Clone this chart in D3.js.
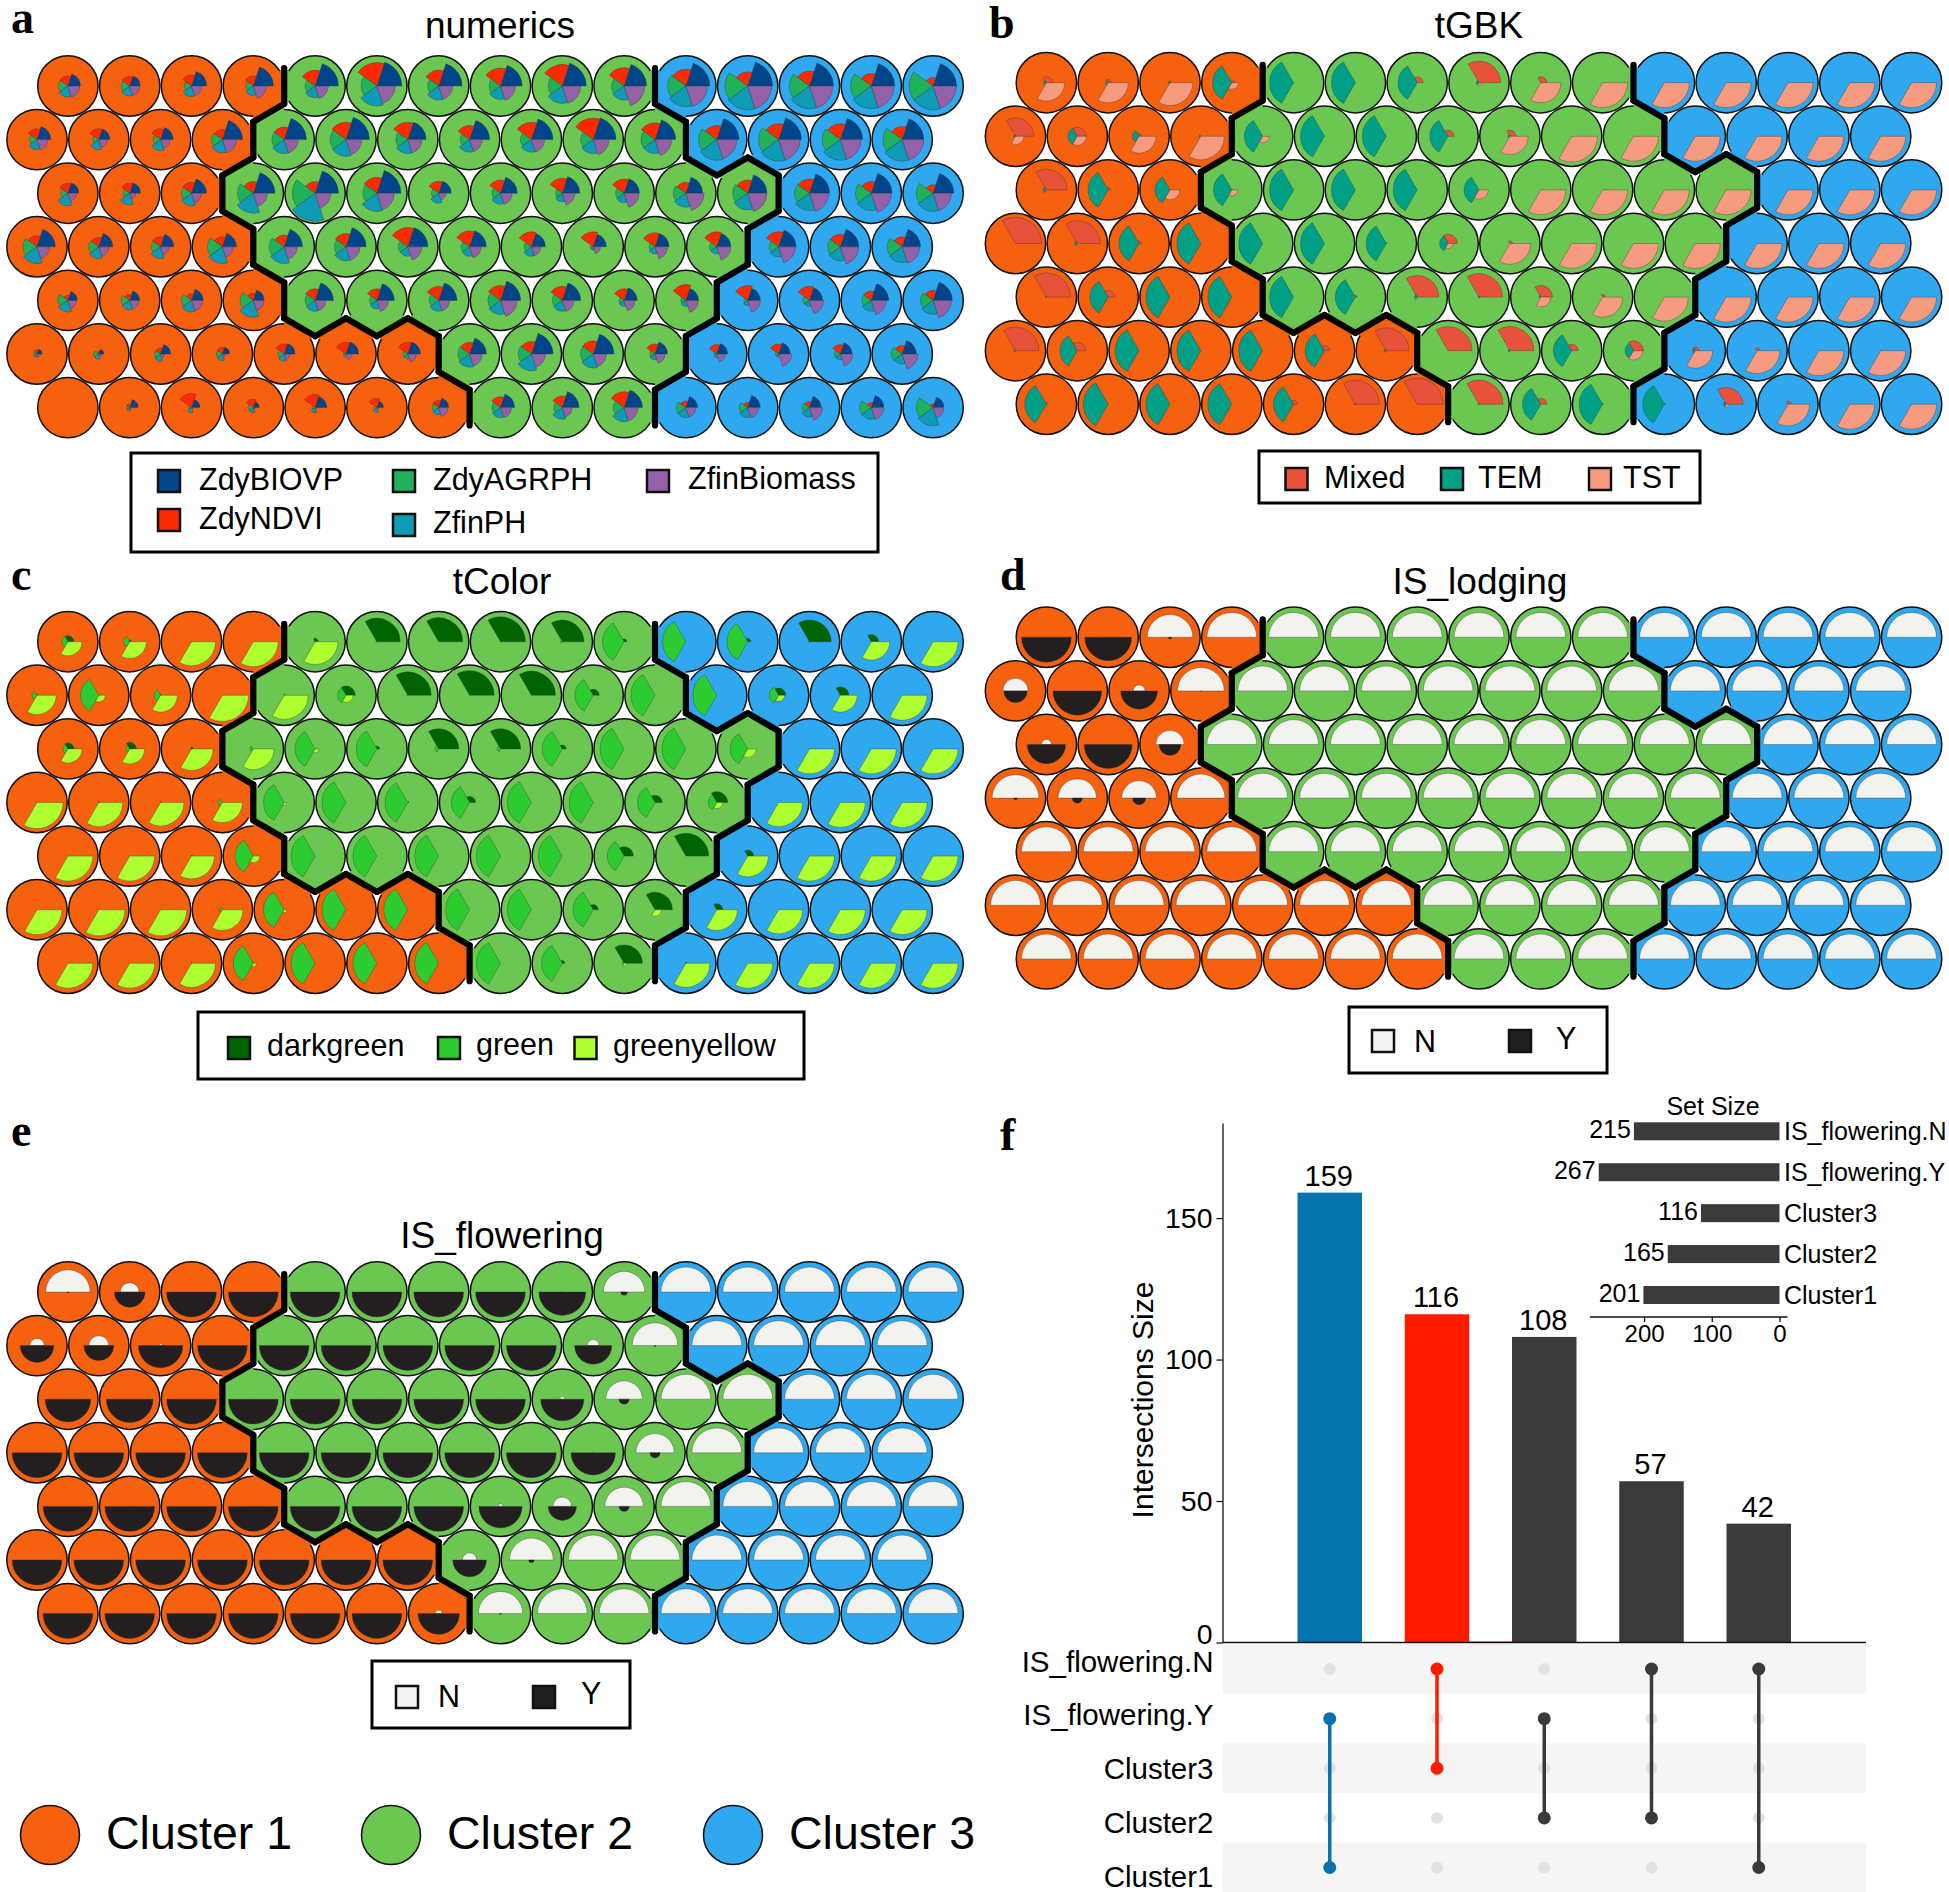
<!DOCTYPE html>
<html>
<head>
<meta charset="utf-8">
<script src="https://cdn.jsdelivr.net/npm/d3@7"></script>
<style>
  html, body { margin: 0; padding: 0; background: #fff; }
  text { font-family: "Liberation Sans", Arial, sans-serif; fill: #000; }
</style>
</head>
<body>
<svg id="chart" width="1949" height="1892"></svg>
<script>
// SOM grid: 7 rows of 15 cells, number of cluster 1 cells and first cluster 3 cell per row
const cluster1Count = [4, 4, 3, 4, 4, 7, 7];
const cluster3Start = [10, 11, 12, 12, 11, 11, 10];
const clusterColors = ["#f6610f", "#6cc752", "#2fa8ef"];
const clusterNames = ["Cluster 1", "Cluster 2", "Cluster 3"];

// panel a, codes per cell, read row by row
const zdyBIOVP = [
  42,35,51,67,78,83,78,72,80,75,80,83,80,78,78,
  46,37,42,67,74,78,61,67,72,76,69,74,76,74,72,
  36,36,50,72,78,80,42,56,58,51,56,64,67,69,69,
  61,47,44,47,61,67,67,56,47,44,47,47,58,61,61,
  31,33,39,36,61,58,61,67,61,44,42,42,44,58,64,
  17,17,33,24,36,42,42,56,72,69,42,36,39,39,47,
  0,28,28,20,39,22,33,47,56,61,39,42,39,42,36];
const zdyNDVI = [
  33,31,36,33,53,78,53,60,72,61,56,47,50,42,28,
  36,36,36,33,42,58,58,47,58,72,56,47,53,53,44,
  33,33,36,39,39,53,40,44,50,47,36,44,47,39,28,
  36,31,33,33,39,44,64,53,50,50,47,50,50,42,33,
  17,20,22,24,39,39,47,50,47,39,53,50,47,31,33,
  13,9,20,22,33,39,39,39,42,44,33,31,33,31,28,
  0,13,47,28,44,31,24,36,39,53,22,17,20,17,13];
const zdyAGRPH = [
  31,28,24,24,33,53,37,38,47,42,61,76,67,69,80,
  24,20,24,36,41,53,40,31,36,42,47,61,67,61,64,
  24,22,33,53,76,47,24,28,22,28,42,50,50,53,56,
  47,33,31,50,50,39,31,28,24,9,20,24,31,42,50,
  33,28,33,44,33,24,31,42,33,17,17,13,22,31,42,
  11,17,20,20,20,9,16,39,44,42,17,9,11,20,36,
  0,11,9,17,9,9,22,28,28,36,31,28,24,39,56];
const zfinPH = [
  37,33,35,31,39,67,47,45,58,47,69,80,76,76,80,
  33,33,37,44,47,56,47,42,42,47,47,69,72,69,72,
  42,39,42,67,94,61,33,36,28,31,47,56,58,58,61,
  56,39,39,56,56,47,31,31,31,11,24,24,33,47,53,
  39,31,39,56,36,28,36,47,36,20,20,17,20,36,47,
  11,17,24,22,24,11,16,44,56,47,20,13,11,20,33,
  0,11,17,17,17,16,24,33,39,47,33,33,31,39,61];
const zfinBiomass = [
  39,33,34,44,44,61,47,50,61,69,72,80,78,76,78,
  36,28,31,47,47,53,47,42,44,53,56,67,72,69,72,
  28,20,33,47,53,58,24,39,42,50,61,64,64,67,61,
  42,33,28,36,44,47,47,39,31,24,42,47,56,61,58,
  28,31,36,36,36,39,36,56,39,36,42,42,47,50,61,
  11,9,13,11,20,20,28,42,47,44,33,28,44,42,53,
  0,6,6,6,6,6,31,36,33,47,33,36,44,42,36];

// panel b
const mixed = [
  20,11,6,9,0,0,20,72,20,0,0,0,0,0,0,
  61,30,9,0,0,0,0,20,20,0,0,0,0,0,0,
  69,9,0,0,0,0,0,0,0,0,0,0,0,0,0,
  87,76,9,0,0,0,3,31,9,0,0,0,0,0,0,
  80,22,0,0,0,6,72,78,39,9,0,0,0,0,0,
  78,28,0,0,0,17,76,80,80,22,33,13,9,0,0,
  6,0,0,0,13,80,87,80,20,3,3,56,11,0,0];
const tem = [
  9,9,6,64,80,80,64,9,0,0,0,0,0,0,0,
  6,31,22,6,61,80,80,61,6,0,0,0,0,0,0,
  11,67,50,61,80,80,80,50,0,0,0,0,0,0,0,
  0,9,67,80,80,80,67,28,0,0,0,0,0,0,0,
  3,61,80,80,80,67,9,3,6,0,0,0,0,0,0,
  6,58,80,80,80,64,7,0,6,61,28,9,0,0,0,
  72,83,80,80,67,3,0,3,61,78,72,9,0,0,0];
const tst = [
  61,67,76,22,0,0,0,9,67,83,83,83,83,83,83,
  28,30,56,78,22,0,0,0,61,86,83,83,83,83,83,
  0,3,33,20,0,0,0,31,83,83,83,83,83,83,83,
  0,0,0,0,0,0,0,17,69,83,83,83,83,83,83,
  0,0,0,0,0,0,0,3,33,67,80,83,83,83,83,
  0,0,0,0,0,0,0,0,0,0,31,58,76,83,83,
  0,0,0,0,0,0,0,0,0,0,0,9,72,83,83];

// panel c
const darkgreen = [
  20,6,0,0,11,78,80,83,72,9,0,11,72,24,0,
  3,0,3,0,3,31,78,82,80,20,0,0,24,28,0,
  20,22,6,0,0,9,67,67,13,0,0,0,0,0,0,
  0,3,3,0,0,0,3,20,0,0,24,36,0,0,0,
  0,0,3,0,0,0,0,0,0,31,76,20,0,0,0,
  0,0,0,0,0,0,0,0,0,17,58,20,0,0,0,
  0,0,3,0,0,0,0,0,9,61,3,0,0,0,0];
const green = [
  20,20,3,0,3,3,0,0,6,72,78,69,3,0,0,
  17,61,22,0,0,28,3,0,0,61,80,80,31,3,0,
  17,13,3,11,67,69,13,11,67,80,80,58,0,0,0,
  0,0,0,13,69,80,76,61,80,80,58,28,0,0,0,
  0,0,0,61,80,80,80,80,80,56,0,0,0,0,0,
  0,0,0,9,69,80,80,80,80,67,0,0,0,0,0,
  0,0,0,67,80,80,80,80,69,6,0,0,0,0,0];
const greenyellow = [
  47,56,80,83,76,0,0,0,0,0,0,0,0,61,83,
  64,22,56,87,80,24,0,0,0,0,0,0,20,56,83,
  47,50,72,69,13,0,0,0,0,0,0,28,83,83,83,
  87,80,78,67,9,0,0,0,0,0,0,20,80,83,83,
  83,83,76,22,0,0,0,0,0,0,6,69,83,83,83,
  83,87,87,69,9,0,0,0,0,0,22,69,80,83,83,
  83,83,80,11,0,0,0,0,0,9,80,83,83,83,83];

// panel d
const lodgingN = [
  0,3,76,83,83,83,83,83,83,83,83,83,83,83,83,
  42,0,20,78,83,83,83,83,83,83,83,83,83,83,83,
  17,2,47,83,83,83,83,83,83,83,83,83,83,83,83,
  78,64,58,80,83,83,83,83,83,83,83,83,83,83,83,
  83,83,83,83,83,83,83,83,83,83,83,83,83,83,83,
  83,83,83,83,83,83,83,83,83,83,83,83,83,83,83,
  83,83,83,83,83,83,83,83,83,83,83,83,83,83,83];
const lodgingY = [
  83,78,6,0,0,0,0,0,0,0,0,0,0,0,0,
  39,81,61,1,0,0,0,0,0,0,0,0,0,0,0,
  64,80,36,0,0,0,0,0,0,0,0,0,0,0,0,
  6,17,22,0,0,0,0,0,0,0,0,0,0,0,0,
  0,0,0,0,0,0,0,0,0,0,0,0,0,0,0,
  0,0,0,0,0,0,0,0,0,0,0,0,0,0,0,
  0,0,0,0,0,0,0,0,0,0,0,0,0,0,0];

// panel e
const floweringN = [
  74,31,0,0,0,0,0,0,3,69,83,83,83,83,83,
  24,33,6,0,0,0,0,0,0,20,76,83,83,83,83,
  3,2,0,0,0,0,0,0,9,61,83,83,83,83,83,
  0,0,0,0,0,0,0,0,0,3,64,83,83,83,83,
  0,0,0,0,0,0,0,9,31,64,83,83,83,83,83,
  0,0,0,0,0,0,0,24,73,83,83,83,83,83,83,
  0,0,0,0,0,0,11,74,83,83,83,83,83,83,83];
const floweringY = [
  3,51,83,83,83,83,83,83,78,11,0,0,0,0,0,
  56,50,74,83,83,83,83,83,83,62,3,0,0,0,0,
  76,78,83,83,83,83,83,83,72,17,0,0,0,0,0,
  83,83,83,83,83,83,83,83,83,74,17,0,0,0,0,
  83,83,83,83,83,83,83,72,47,17,0,0,0,0,0,
  83,83,83,83,83,83,83,56,9,0,0,0,0,0,0,
  83,83,83,83,83,83,69,3,0,0,0,0,0,0,0];

// panel f, upset plot
const interSizes = [159, 116, 108, 57, 42];
const interColors = ["#0773ae", "#ff1a00", "#3a3a3a", "#3a3a3a", "#3a3a3a"];
const interSets = [
  ["IS_flowering.Y", "Cluster1"],
  ["IS_flowering.N", "Cluster3"],
  ["IS_flowering.Y", "Cluster2"],
  ["IS_flowering.N", "Cluster2"],
  ["IS_flowering.N", "Cluster1"]];
const setNames = ["IS_flowering.N", "IS_flowering.Y", "Cluster3", "Cluster2", "Cluster1"];
const setSizes = [215, 267, 116, 165, 201];
const yTicks = [0, 50, 100, 150];
const setTicks = [0, 100, 200];

const svg = d3.select("#chart");

const panels = [
  { title: "numerics", titleX: 500, titleY: 38, x0: 37, y0: 86,
    series: [zdyBIOVP, zdyNDVI, zdyAGRPH, zfinPH, zfinBiomass],
    colors: ["#00458a", "#ff2a00", "#1fb25a", "#0e9bb5", "#9460a8"] },
  { title: "tGBK", titleX: 1479, titleY: 38, x0: 1015.5, y0: 82.7,
    series: [mixed, tem, tst],
    colors: ["#e9523a", "#00a087", "#f79b80"] },
  { title: "tColor", titleX: 502, titleY: 594, x0: 37, y0: 641.7,
    series: [darkgreen, green, greenyellow],
    colors: ["#006400", "#2ccb30", "#adff2f"] },
  { title: "IS_lodging", titleX: 1480, titleY: 594, x0: 1015.5, y0: 637.3,
    series: [lodgingN, lodgingY],
    colors: ["#f2f2ee", "#231f20"] },
  { title: "IS_flowering", titleX: 502, titleY: 1248, x0: 37, y0: 1292,
    series: [floweringN, floweringY],
    colors: ["#f2f2ee", "#231f20"] }
];

const stepX = 61.8, stepY = 53.6;
const hexW = stepX / 2, hexS = stepY * 2 / 3;
const hexPts = [[0, -hexS], [hexW, -hexS / 2], [hexW, hexS / 2], [0, hexS], [-hexW, hexS / 2], [-hexW, -hexS / 2]];
const rScale = d3.scaleLinear().domain([0, 100]).range([0, 30]);
const arc = d3.arc().innerRadius(0);

function clusterOf(row, col) {
  if (row < 0 || row > 6 || col < 0 || col > 14) return -1;
  if (col < cluster1Count[row]) return 0;
  return col < cluster3Start[row] ? 1 : 2;
}

// neighbours in hexPts edge order: NE, E, SE, SW, W, NW
function neighbours(row, col) {
  const s = row % 2 === 0 ? 1 : 0;
  return [[row - 1, col + s], [row, col + 1], [row + 1, col + s],
          [row + 1, col + s - 1], [row, col - 1], [row - 1, col + s - 1]];
}

function drawSom(p) {
  const g = svg.append("g");
  const xScale = d3.scaleLinear().domain([0, 14]).range([p.x0, p.x0 + 14 * stepX]);
  const yScale = d3.scaleLinear().domain([0, 6]).range([p.y0, p.y0 + 6 * stepY]);
  const cells = d3.range(105).map(i => {
    const row = Math.floor(i / 15), col = i % 15;
    return { i, row, col, cluster: clusterOf(row, col),
             x: xScale(col + (row % 2 === 0 ? 0.5 : 0)), y: yScale(row) };
  });

  g.selectAll("circle.cell").data(cells).enter().append("circle")
    .attr("class", "cell")
    .attr("cx", d => d.x)
    .attr("cy", d => d.y)
    .attr("r", 30.2)
    .style("fill", d => clusterColors[d.cluster])
    .style("stroke", "#111")
    .style("stroke-width", 1.5);

  // cells beside a boundary are filled out to the hexagon edge
  const line = d3.line();
  const edges = [];
  cells.forEach(c => {
    neighbours(c.row, c.col).forEach((n, k) => {
      const other = clusterOf(n[0], n[1]);
      if (other === -1 || other === c.cluster) return;
      const a = hexPts[k], b = hexPts[(k + 1) % 6];
      g.append("path")
        .attr("d", line([[c.x, c.y], [c.x + a[0], c.y + a[1]], [c.x + b[0], c.y + b[1]]]) + "Z")
        .style("fill", clusterColors[c.cluster]);
      if (k >= 1 && k <= 3) edges.push([[c.x + a[0], c.y + a[1]], [c.x + b[0], c.y + b[1]]]);
    });
  });

  // segments go counterclockwise from 3 o'clock
  const pie = d3.pie().sort(null).value(1)
    .startAngle(Math.PI / 2)
    .endAngle(Math.PI / 2 - 2 * Math.PI);
  const slices = pie(p.series);

  cells.forEach(c => {
    const sg = g.append("g").attr("transform", "translate(" + c.x + "," + c.y + ")");
    slices.forEach((s, k) => {
      const v = p.series[k][c.i];
      if (v <= 0) return;
      sg.append("path")
        .attr("d", arc.outerRadius(rScale(v))(s))
        .style("fill", p.colors[k])
        .style("stroke", "#333")
        .style("stroke-opacity", 0.6)
        .style("stroke-width", 0.6);
    });
  });

  g.selectAll("line.bound").data(edges).enter().append("line")
    .attr("class", "bound")
    .attr("x1", d => d[0][0])
    .attr("y1", d => d[0][1])
    .attr("x2", d => d[1][0])
    .attr("y2", d => d[1][1])
    .style("stroke", "#000")
    .style("stroke-width", 6.2)
    .style("stroke-linecap", "round");

  g.append("text")
    .attr("x", p.titleX)
    .attr("y", p.titleY)
    .attr("text-anchor", "middle")
    .style("font-size", "37px")
    .text(p.title);
}

panels.forEach(drawSom);

// panel letters
[["a", 11, 33], ["b", 989, 38], ["c", 11, 590], ["d", 1000, 590], ["e", 11, 1146], ["f", 1000, 1150]].forEach(l => {
  svg.append("text")
    .attr("x", l[1])
    .attr("y", l[2])
    .style("font-family", "'Liberation Serif', serif")
    .style("font-weight", "bold")
    .style("font-size", "46px")
    .text(l[0]);
});

// legends
function legendBox(x, y, w, h) {
  svg.append("rect")
    .attr("x", x).attr("y", y).attr("width", w).attr("height", h)
    .style("fill", "#fff")
    .style("stroke", "#000")
    .style("stroke-width", 3);
}
function legendItem(sx, sy, color, label, tx, ty) {
  svg.append("rect")
    .attr("x", sx - 11).attr("y", sy - 11).attr("width", 22).attr("height", 22)
    .style("fill", color)
    .style("stroke", "#111")
    .style("stroke-width", 2.5);
  svg.append("text").attr("x", tx).attr("y", ty).style("font-size", "30.5px").text(label);
}

legendBox(131, 453, 747, 99);
legendItem(169, 481, panels[0].colors[0], "ZdyBIOVP", 199, 490);
legendItem(169, 520, panels[0].colors[1], "ZdyNDVI", 199, 529);
legendItem(404, 481, panels[0].colors[2], "ZdyAGRPH", 433, 490);
legendItem(404, 525, panels[0].colors[3], "ZfinPH", 433, 533);
legendItem(658, 481, panels[0].colors[4], "ZfinBiomass", 688, 489);

legendBox(1259, 451, 441, 52);
legendItem(1296.5, 479, panels[1].colors[0], "Mixed", 1324, 488);
legendItem(1452, 479, panels[1].colors[1], "TEM", 1478, 488);
legendItem(1600, 479, panels[1].colors[2], "TST", 1623, 488);

legendBox(198, 1012, 606, 67);
legendItem(239, 1048, panels[2].colors[0], "darkgreen", 267, 1056);
legendItem(449, 1048, panels[2].colors[1], "green", 476, 1055);
legendItem(585.5, 1048, panels[2].colors[2], "greenyellow", 613, 1056);

legendBox(1349, 1007, 258, 66);
legendItem(1383, 1041, panels[3].colors[0], "N", 1414, 1052);
legendItem(1520, 1041, panels[3].colors[1], "Y", 1556, 1049);

legendBox(372, 1661, 258, 67);
legendItem(407, 1697, panels[4].colors[0], "N", 438, 1707);
legendItem(544, 1697, panels[4].colors[1], "Y", 581, 1704);

[50, 391, 733].forEach((cx, i) => {
  svg.append("circle")
    .attr("cx", cx).attr("cy", 1835).attr("r", 29.5)
    .style("fill", clusterColors[i])
    .style("stroke", "#111")
    .style("stroke-width", 1.5);
  svg.append("text")
    .attr("x", cx + 56)
    .attr("y", 1849)
    .style("font-size", "46.5px")
    .text(clusterNames[i]);
});

// upset bars
const plotLeft = 1222.5, plotRight = 1866, plotBase = 1642.5, plotTop = 1123;
const xInter = d3.scalePoint().domain(d3.range(interSizes.length)).range([plotLeft, plotRight]).padding(1);
const yInter = d3.scaleLinear().domain([0, 183.6]).range([plotBase, plotTop]);
const barW = 64.5;
const f = svg.append("g");

// matrix stripes
const yRow = d3.scalePoint().domain(setNames).range([1669, 1867.5]);
const rowStep = yRow.step();
f.selectAll("rect.stripe").data(setNames.filter((d, i) => i % 2 === 0)).enter().append("rect")
  .attr("class", "stripe")
  .attr("x", plotLeft)
  .attr("y", d => yRow(d) - rowStep / 2)
  .attr("width", plotRight - plotLeft)
  .attr("height", rowStep)
  .style("fill", "#f5f5f5");

f.selectAll("rect.bar").data(interSizes).enter().append("rect")
  .attr("class", "bar")
  .attr("x", (d, i) => xInter(i) - barW / 2)
  .attr("y", d => yInter(d))
  .attr("width", barW)
  .attr("height", d => plotBase - yInter(d))
  .style("fill", (d, i) => interColors[i]);

f.selectAll("text.barlab").data(interSizes).enter().append("text")
  .attr("class", "barlab")
  .attr("x", (d, i) => xInter(i) - 1)
  .attr("y", d => yInter(d) - 7)
  .attr("text-anchor", "middle")
  .style("font-size", "29px")
  .text(d => d);

// thin red trace on the baseline between the red and the next bar
f.append("line")
  .attr("x1", xInter(1) + barW / 2).attr("x2", xInter(2) - barW / 2)
  .attr("y1", plotBase - 0.5).attr("y2", plotBase - 0.5)
  .style("stroke", interColors[1]);

const yAxisG = f.append("g")
  .attr("transform", "translate(" + plotLeft + ",0)")
  .call(d3.axisLeft(yInter).tickValues(yTicks).tickSize(6).tickSizeOuter(0).tickPadding(4));
yAxisG.selectAll("text").style("font-size", "28.5px").style("font-family", "'Liberation Sans'");
yAxisG.selectAll(".tick").filter(d => d === 0).select("text").attr("transform", "translate(0,-8)");
yAxisG.select(".domain").style("stroke", "#111").style("stroke-width", 1.3);
yAxisG.selectAll("line").style("stroke", "#111").style("stroke-width", 1.3);

f.append("line")
  .attr("x1", plotLeft).attr("x2", plotRight)
  .attr("y1", plotBase).attr("y2", plotBase)
  .style("stroke", "#111")
  .style("stroke-width", 1.5);

f.append("text")
  .attr("transform", "translate(1153,1400) rotate(-90)")
  .attr("text-anchor", "middle")
  .style("font-size", "30px")
  .text("Intersections Size");

// matrix dots and links
const yRowLabel = d3.scalePoint().domain(setNames).range([1661.5, 1877]);
f.selectAll("text.rowlab").data(setNames).enter().append("text")
  .attr("class", "rowlab")
  .attr("x", 1213.5)
  .attr("y", d => yRowLabel(d) + 10)
  .attr("text-anchor", "end")
  .style("font-size", "29.5px")
  .text(d => d);

interSizes.forEach((v, i) => {
  const cx = xInter(i);
  setNames.forEach(s => {
    f.append("circle")
      .attr("cx", cx).attr("cy", yRow(s)).attr("r", 6)
      .style("fill", "#e2e2e2");
  });
  f.append("line")
    .attr("x1", cx).attr("x2", cx)
    .attr("y1", yRow(interSets[i][0])).attr("y2", yRow(interSets[i][1]))
    .style("stroke", interColors[i])
    .style("stroke-width", 3.5);
  interSets[i].forEach(s => {
    f.append("circle")
      .attr("cx", cx).attr("cy", yRow(s)).attr("r", 6.5)
      .style("fill", interColors[i]);
  });
});

// set size inset
const xSet = d3.scaleLinear().domain([0, 267]).range([1779.5, 1598.7]);
const ySet = d3.scalePoint().domain(setNames).range([1131.3, 1295]);
f.selectAll("rect.setbar").data(setSizes).enter().append("rect")
  .attr("class", "setbar")
  .attr("x", d => xSet(d))
  .attr("y", (d, i) => ySet(setNames[i]) - 9)
  .attr("width", d => xSet(0) - xSet(d))
  .attr("height", 18)
  .style("fill", "#3a3a3a");
f.selectAll("text.setval").data(setSizes).enter().append("text")
  .attr("class", "setval")
  .attr("x", d => xSet(d) - 3)
  .attr("y", (d, i) => ySet(setNames[i]) + 7)
  .attr("text-anchor", "end")
  .style("font-size", "25px")
  .text(d => d);
f.selectAll("text.setlab").data(setNames).enter().append("text")
  .attr("class", "setlab")
  .attr("x", 1784)
  .attr("y", d => ySet(d) + 9)
  .style("font-size", "25px")
  .text(d => d);
f.append("text")
  .attr("x", 1713)
  .attr("y", 1115)
  .attr("text-anchor", "middle")
  .style("font-size", "25px")
  .text("Set Size");

const setAxisG = f.append("g")
  .attr("transform", "translate(0,1317)")
  .call(d3.axisBottom(xSet).tickValues(setTicks).tickSize(5).tickSizeOuter(0).tickPadding(3));
setAxisG.select(".domain").attr("d", "M1590,0H1787.5").style("stroke", "#111").style("stroke-width", 1.3);
setAxisG.selectAll("line").style("stroke", "#111").style("stroke-width", 1.3);
setAxisG.selectAll("text").style("font-size", "24px").style("font-family", "'Liberation Sans'");
</script>
</body>
</html>
